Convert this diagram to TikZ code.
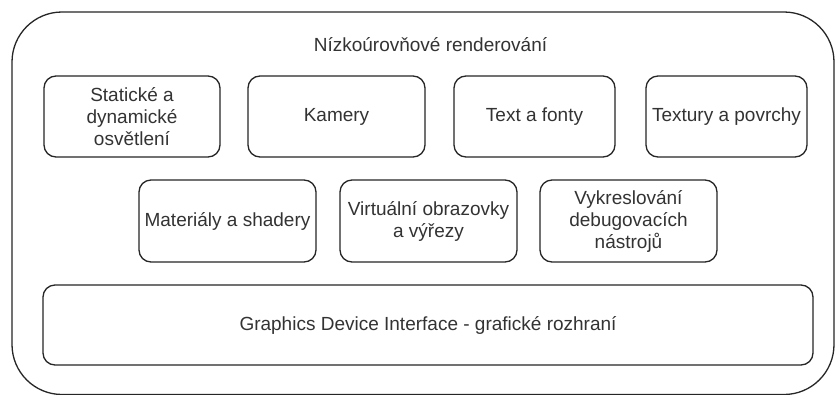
\documentclass[tikz,border=0pt]{standalone}
\usepackage{fontspec}
\setmainfont{Liberation Sans}
\begin{document}
\begin{tikzpicture}[x=1pt,y=-1pt,
  every node/.style={text=textgray,font=\fontsize{19}{22}\selectfont},
  block/.style={draw=linegray,line width=1.3pt,rounded corners=12pt,
    inner sep=0pt,align=center},
]
\definecolor{textgray}{HTML}{333333}
\definecolor{linegray}{HTML}{262626}
\useasboundingbox (0,0) rectangle (835,394);
\fill[white] (0,0) rectangle (835,394);

% enclosing layer
\draw[draw=linegray,line width=1.3pt,rounded corners=50pt] (12,12) rectangle (834,394.5);
\node (title) at (430.5,45) {Nízkoúrovňové renderování};

% first row
\node[block,minimum width=176pt,minimum height=81pt] (light) at (132,116.5)
  {Statické a\\dynamické\\osvětlení};
\node[block,minimum width=177pt,minimum height=81pt] (cam) at (336.5,116.5) {Kamery};
\node[block,minimum width=161pt,minimum height=81pt] (text) at (534.5,116.5) {Text a fonty};
\node[block,minimum width=161pt,minimum height=81pt] (tex) at (726.5,116.5) {Textury a povrchy};

% second row
\node[block,minimum width=177pt,minimum height=82pt] (mat) at (227.5,221) {Materiály a shadery};
\node[block,minimum width=177pt,minimum height=82pt] (view) at (428.5,221)
  {Virtuální obrazovky\\a výřezy};
\node[block,minimum width=177pt,minimum height=82pt] (debug) at (628.5,221)
  {Vykreslování\\debugovacích\\nástrojů};

% device interface
\node[block,minimum width=770pt,minimum height=80pt] (gdi) at (428,325)
  {Graphics Device Interface - grafické rozhraní};
\end{tikzpicture}
\end{document}
